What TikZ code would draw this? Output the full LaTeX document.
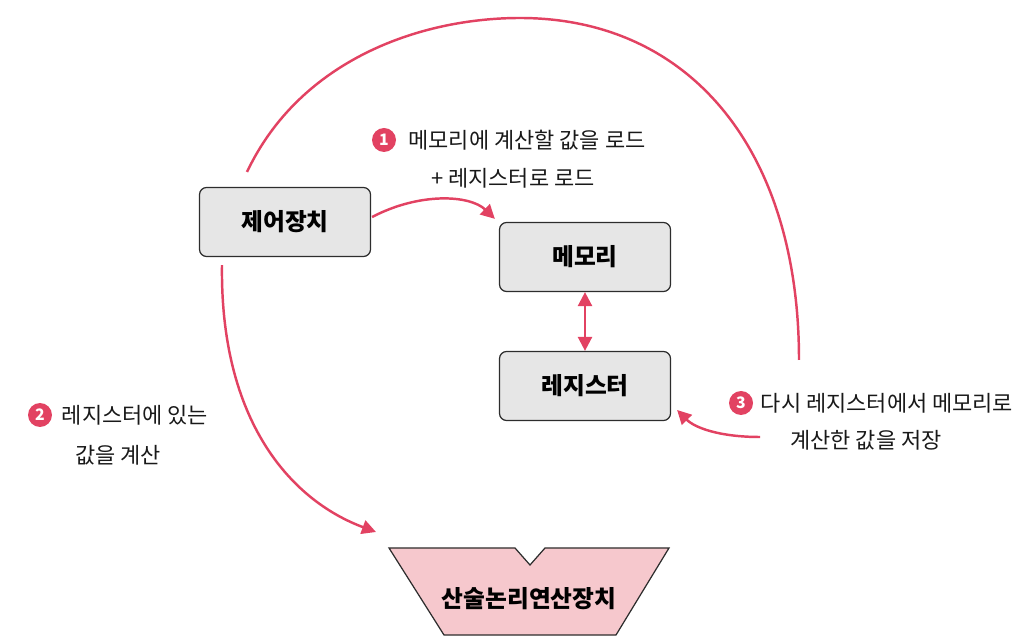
\documentclass[tikz,border=0pt]{standalone}
\usepackage{fontspec}
\setmainfont{Noto Sans CJK KR}
\usetikzlibrary{positioning}
\usetikzlibrary{arrows.meta}
\definecolor{crimson}{RGB}{226,66,98}
\definecolor{boxgray}{RGB}{230,230,230}
\definecolor{alupink}{RGB}{246,200,205}
\definecolor{edge}{RGB}{45,45,45}

\begin{document}
\begin{tikzpicture}[x=0.02cm, y=-0.02cm]
			\tikzstyle{unit}=[rectangle, rounded corners=4pt, draw=edge, line width=0.7pt, fill=boxgray, minimum width=3.42cm, minimum height=1.38cm, font=\fontsize{13.5}{16}\selectfont\bfseries]
			\tikzstyle{flow}=[draw=crimson, line width=1.4pt, -{Triangle[length=8pt,width=8pt]}]
			\tikzstyle{num}=[circle, fill=crimson, text=white, minimum size=0.48cm, inner sep=0pt, font=\fontsize{9}{9}\selectfont\bfseries]
			\tikzstyle{note}=[font=\fontsize{12.5}{15}\selectfont, text=black!90]
			
			\useasboundingbox (0,0) rectangle (1024,644);
			
			\node at (285, 222) [unit] (ctrl) {제어장치};
			\node at (585, 257) [unit] (mem) {메모리};
			\node at (585, 386) [unit] (reg) {레지스터};
			
			% ALU
			\draw [fill=alupink, draw=edge, line width=0.7pt] (389,548) -- (515,548) -- (530,565) -- (545,548) -- (669,548) -- (616,635) -- (444,635) -- cycle;
			\node at (529, 599) [font=\fontsize{13.5}{16}\selectfont\bfseries] (alu) {산술논리연산장치};
			
			\coordinate (arcL) at (247,172);
			\coordinate (arcR) at (799,360);
			\coordinate (aluin) at (376,532);
			\coordinate (back) at (760,437);
			
			\draw [draw=crimson, line width=1.4pt] (arcL) .. controls (300,60) and (420,18) .. (520,18) .. controls (690,18) and (799,150) .. (arcR);
			\draw [flow] ([shift={(1,-5)}]ctrl.east) .. controls (420,192) and (470,195) .. ([shift={(-4,-3)}]mem.north west);
			\draw [flow, {Triangle[length=8pt,width=8pt]}-{Triangle[length=8pt,width=8pt]}] (mem.south) -- (reg.north);
			\draw [flow] ([shift={(-63,8)}]ctrl.south) .. controls (220,420) and (290,500) .. (aluin);
			\draw [flow] (back) .. controls (720,437) and (695,428) .. ([shift={(6,24)}]reg.east);
			
			\node at (384, 140) [num] (n1) {1};
			\node at (527, 140) [note] (t1a) {메모리에 계산할 값을 로드};
			\node at (513, 178) [note] (t1b) {+ 레지스터로 로드};
			
			\node at (40, 415) [num] (n2) {2};
			\node at (135, 415) [note] (t2a) {레지스터에 있는};
			\node at (118, 455) [note] (t2b) {값을 계산};
			
			\node at (741, 403) [num] (n3) {3};
			\node at (887, 403) [note] (t3a) {다시 레지스터에서 메모리로};
			\node at (866, 440) [note] (t3b) {계산한 값을 저장};
\end{tikzpicture}
\end{document}
